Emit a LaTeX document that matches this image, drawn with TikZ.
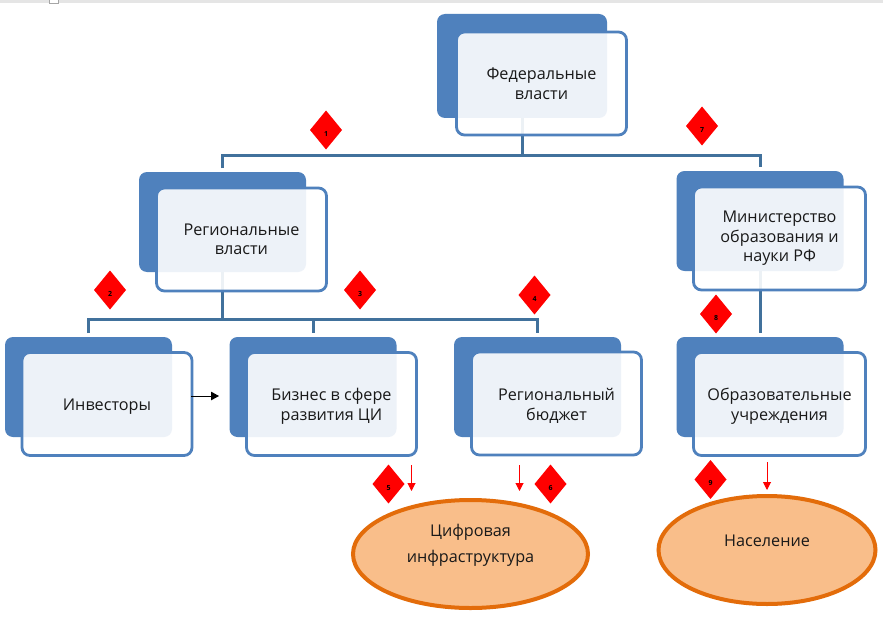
\documentclass[tikz,border=0pt]{standalone}
\usepackage{fontspec}
\setmainfont{Open Sans}
\usetikzlibrary{shapes.geometric,arrows.meta}
\definecolor{backblue}{HTML}{4F81BD}
\definecolor{linkblue}{HTML}{41719C}
\definecolor{ovalfill}{HTML}{F9BE8A}
\definecolor{ovalline}{HTML}{E36C0A}
\tikzset{
  backbox/.style={rectangle,rounded corners=8pt,fill=backblue,minimum width=167pt,minimum height=100pt,outer sep=0pt,inner sep=0pt},
  frontbox/.style={rectangle,rounded corners=8pt,draw=backblue,line width=2.8pt,fill=white,fill opacity=.9,draw opacity=1,text opacity=1,minimum width=170pt,minimum height=103pt,outer sep=0pt,inner sep=0pt,align=center,font=\fontsize{16.2}{19.5}\selectfont,text=black!90},
  link/.style={draw=linkblue,line width=3pt},
  oval/.style={ellipse,draw=ovalline,line width=4pt,fill=ovalfill,minimum width=235pt,minimum height=108pt,outer sep=0pt,inner sep=0pt},
  ovaltext/.style={align=center,inner sep=0pt,font=\fontsize{16.2}{26}\selectfont,text=black!90},
  mark diamond/.style={diamond,fill=red,minimum width=32pt,minimum height=39pt,inner sep=0pt,outer sep=0pt,font=\bfseries\fontsize{7}{8}\selectfont,text=black},
  redarrow/.style={draw=red,line width=1pt,-{Triangle[length=8pt,width=8pt]}},
  blackarrow/.style={draw=black,line width=1pt,-{Triangle[length=8pt,width=8.5pt]}}
}
\newcommand{\dnum}[1]{\raisebox{-6pt}[0pt][0pt]{#1}}
\newcommand{\lowstrut}{\rule{0pt}{16.5pt}}
\begin{document}
\begin{tikzpicture}[x=1pt,y=-1pt]
\useasboundingbox (0,0) rectangle (883,623);
\fill[white] (0,0) rectangle (883,623);
\fill[black!10] (0,0) rectangle (883,3);
\draw[black!35,line width=.7pt,fill=white] (49,-2) rectangle (58,3);

% back panels
\node[backbox,minimum width=170pt,minimum height=104pt] (fedb) at (522,66) {};
\node[backbox] (regb) at (222.5,222) {};
\node[backbox] (minb) at (760,221) {};
\node[backbox] (invb) at (88.5,387) {};
\node[backbox] (bizb) at (313,387) {};
\node[backbox] (budb) at (537.5,387) {};
\node[backbox] (edub) at (760,387) {};

% connectors, under the translucent front panels
\coordinate (busone) at (522,155);
\coordinate (bustwo) at (222.5,319);
\draw[link] (fedb.south) -- (busone);
\draw[link] (regb.north) ++(0,-4) |- (busone) -| ([yshift=4pt]minb.north);
\draw[link] (regb.south) -- (bustwo);
\draw[link] ([yshift=4pt]invb.north) |- (bustwo) -| ([yshift=4pt]budb.north);
\draw[link] (bizb.north |- bustwo) -- ([yshift=4pt]bizb.north);
\draw[link] (minb.south) -- ([yshift=4pt]edub.north);

% front panels
\node[frontbox] (fedf) at (541.5,83.5) {Федеральные\\власти};
\node[frontbox] (regf) at (241.5,239.5) {Региональные\\власти};
\node[frontbox,minimum width=172pt] (minf) at (779.5,238.5) {Министерство\\образования и\\науки РФ};
\node[frontbox] (invf) at (107,404) {\lowstrut Инвесторы};
\node[frontbox] (bizf) at (331.5,404) {\lowstrut Бизнес в сфере\\развития ЦИ};
\node[frontbox] (budf) at (556.5,403.5) {\lowstrut Региональный\\бюджет};
\node[frontbox,minimum width=172pt] (eduf) at (779.5,404) {\lowstrut Образовательные\\учреждения};

% ovals
\node[oval] (dig) at (470.5,554) {};
\node[ovaltext] (digt) at ([yshift=9pt]dig.center) {Цифровая\\инфраструктура};
\node[oval,minimum width=217pt] (pop) at (767,550) {};
\node[ovaltext] (popt) at ([yshift=9pt]pop.center) {Население};

% arrows
\coordinate (arra) at (191,396);
\coordinate (arrb) at (219,396);
\draw[blackarrow] (arra) -- (arrb);
\coordinate (reda) at (411.5,465);
\coordinate (redb) at (411.5,491);
\draw[redarrow] (reda) -- (redb);
\coordinate (redc) at (519.5,465);
\coordinate (redd) at (519.5,491);
\draw[redarrow] (redc) -- (redd);
\coordinate (rede) at (767,462);
\coordinate (redf) at (767,490);
\draw[redarrow] (rede) -- (redf);

% numbered diamonds
\node[mark diamond] (d1) at (326,130) {\dnum{1}};
\node[mark diamond] (d2) at (110,290) {\dnum{2}};
\node[mark diamond] (d3) at (360,290) {\dnum{3}};
\node[mark diamond] (d4) at (534.5,295) {\dnum{4}};
\node[mark diamond] (d5) at (388.5,484) {\dnum{5}};
\node[mark diamond] (d6) at (550.5,484) {\dnum{6}};
\node[mark diamond] (d7) at (702,126) {\dnum{7}};
\node[mark diamond] (d8) at (716,314) {\dnum{8}};
\node[mark diamond] (d9) at (710.5,479.5) {\dnum{9}};
\end{tikzpicture}
\end{document}
